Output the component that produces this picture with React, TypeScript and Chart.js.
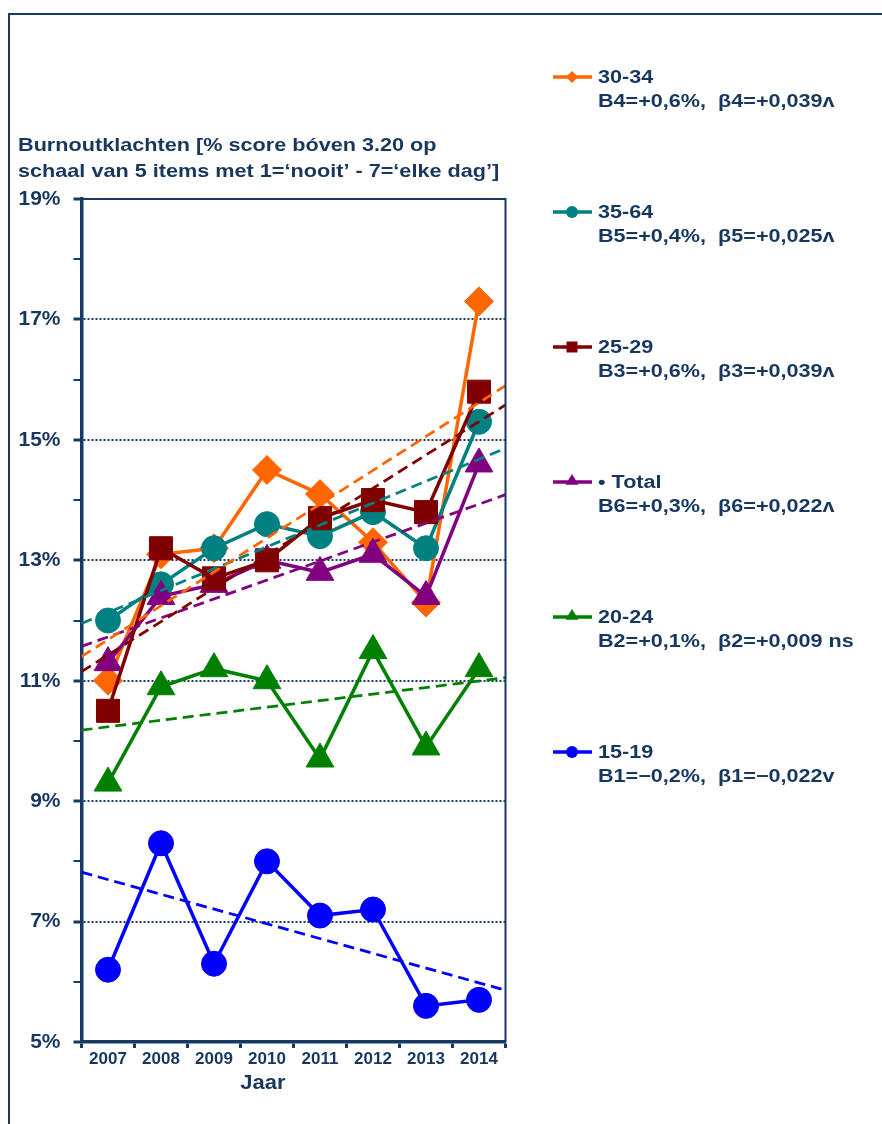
import React, { useEffect, useRef } from 'react';
import { Chart, registerables } from 'chart.js';
Chart.register(...registerables);

const years = ['2007', '2008', '2009', '2010', '2011', '2012', '2013', '2014'];
const s3034 = [11.0, 13.1, 13.2, 14.5, 14.1, 13.3, 12.3, 17.3];
const s3564 = [12.0, 12.6, 13.2, 13.6, 13.4, 13.8, 13.2, 15.3];
const s2529 = [10.5, 13.2, 12.7, 13.0, 13.7, 14.0, 13.8, 15.8];
const sTotal = [11.3, 12.4, 12.6, 13.0, 12.8, 13.1, 12.4, 14.6];
const s2024 = [9.3, 10.9, 11.2, 11.0, 9.7, 11.5, 9.9, 11.2];
const s1519 = [6.2, 8.3, 6.3, 8.0, 7.1, 7.2, 5.6, 5.7];

const trendX = [-0.5, 7.5];
const t3034 = [11.4, 15.9];
const t3564 = [11.95, 14.86];
const t2529 = [11.15, 15.58];
const tTotal = [11.57, 14.09];
const t2024 = [10.18, 11.05];
const t1519 = [7.82, 5.86];

const yMin = 5;
const yMax = 19;

const titleLines = [
  'Burnoutklachten [% score bóven 3.20 op',
  'schaal van 5 items met 1=\u2018nooit\u2019 - 7=\u2018elke dag\u2019]',
];
const xTitle = 'Jaar';

const legendNames = ['30-34', '35-64', '25-29', '\u2022 Total', '20-24', '15-19'];
const legendStats = [
  'B4=+0,6%,  \u03b24=+0,039\u028c',
  'B5=+0,4%,  \u03b25=+0,025\u028c',
  'B3=+0,6%,  \u03b23=+0,039\u028c',
  'B6=+0,3%,  \u03b26=+0,022\u028c',
  'B2=+0,1%,  \u03b22=+0,009 ns',
  'B1=\u22120,2%,  \u03b21=\u22120,022v',
];
const legendColors = ['#FF6600', '#008080', '#800000', '#800080', '#008000', '#0000FF'];
const legendShapes = ['rectRot', 'circle', 'rect', 'triangle', 'triangle', 'circle'];

const NAVY = '#173A64';
const TEXT = '#17375E';
const FONT = '"Liberation Sans", Arial, sans-serif';

function drawMarker(ctx: CanvasRenderingContext2D, shape: string, x: number, y: number, r: number, color: string) {
  ctx.save();
  ctx.fillStyle = color;
  ctx.beginPath();
  if (shape === 'circle') {
    ctx.arc(x, y, r, 0, Math.PI * 2);
  } else if (shape === 'rect') {
    ctx.rect(x - r, y - r, 2 * r, 2 * r);
  } else if (shape === 'rectRot') {
    ctx.moveTo(x - r, y);
    ctx.lineTo(x, y - r);
    ctx.lineTo(x + r, y);
    ctx.lineTo(x, y + r);
    ctx.closePath();
  } else {
    ctx.moveTo(x, y - r);
    ctx.lineTo(x + r * 0.95, y + r * 0.55);
    ctx.lineTo(x - r * 0.95, y + r * 0.55);
    ctx.closePath();
  }
  ctx.fill();
  ctx.restore();
}

function stretchedText(ctx: CanvasRenderingContext2D, text: string, x: number, y: number, sx: number) {
  ctx.save();
  ctx.translate(x, y);
  ctx.scale(sx, 1);
  ctx.fillText(text, 0, 0);
  ctx.restore();
}

const decorPlugin = {
  id: 'decor',
  afterDraw(chart: any) {
    const ctx: CanvasRenderingContext2D = chart.ctx;
    const a = chart.chartArea;
    ctx.save();
    // outer frame
    ctx.strokeStyle = NAVY;
    ctx.lineWidth = 2;
    ctx.beginPath();
    ctx.moveTo(9, 1124);
    ctx.lineTo(9, 14);
    ctx.lineTo(882, 14);
    ctx.stroke();
    // plot top/right border
    ctx.lineWidth = 2;
    ctx.beginPath();
    ctx.moveTo(a.left, a.top);
    ctx.lineTo(a.right, a.top);
    ctx.lineTo(a.right, a.bottom);
    ctx.stroke();
    // title
    ctx.fillStyle = TEXT;
    ctx.font = 'bold 18.5px ' + FONT;
    ctx.textAlign = 'left';
    ctx.textBaseline = 'middle';
    stretchedText(ctx, titleLines[0], 18, 146, 1.17);
    stretchedText(ctx, titleLines[1], 18, 172, 1.17);
    // x title
    ctx.font = 'bold 20px ' + FONT;
    ctx.textAlign = 'center';
    stretchedText(ctx, xTitle, 263, 1083, 1.1);
    // legend
    for (let i = 0; i < legendNames.length; i++) {
      const y = 77 + i * 135;
      ctx.strokeStyle = legendColors[i];
      ctx.lineWidth = 3.5;
      ctx.beginPath();
      ctx.moveTo(553, y);
      ctx.lineTo(592, y);
      ctx.stroke();
      const sh = legendShapes[i];
      const r = sh === 'rect' ? 5.5 : sh === 'triangle' ? 7 : 6;
      drawMarker(ctx, sh, 572, sh === 'triangle' ? y - 1 : y, r, legendColors[i]);
      ctx.fillStyle = TEXT;
      ctx.font = 'bold 18px ' + FONT;
      ctx.textAlign = 'left';
      stretchedText(ctx, legendNames[i], 598, y + 1, 1.2);
      stretchedText(ctx, legendStats[i], 598, y + 25, 1.2);
    }
    ctx.restore();
  },
};

function series(label: string, data: number[], color: string, shape: string, radius: number, order: number) {
  return {
    label,
    data,
    xAxisID: 'x',
    borderColor: color,
    backgroundColor: color,
    borderWidth: 3.5,
    pointStyle: shape,
    pointRadius: radius,
    pointBackgroundColor: color,
    pointBorderColor: color,
    pointBorderWidth: 1,
    tension: 0,
    fill: false,
    order,
  };
}

function trend(label: string, vals: number[], color: string) {
  return {
    label,
    data: trendX.map((x, i) => ({ x, y: vals[i] })),
    xAxisID: 'xt',
    borderColor: color,
    backgroundColor: color,
    borderWidth: 2.75,
    borderDash: [11, 6],
    pointRadius: 0,
    tension: 0,
    fill: false,
    order: 0,
  };
}

export default function App() {
  const ref = useRef<HTMLCanvasElement>(null);
  useEffect(() => {
    if (!ref.current) return;
    const chart = new Chart(ref.current, {
      type: 'line',
      data: {
        labels: years,
        datasets: [
          trend('t30-34', t3034, '#FF6600'),
          trend('t25-29', t2529, '#800000'),
          trend('t35-64', t3564, '#008080'),
          trend('tTotal', tTotal, '#800080'),
          trend('t20-24', t2024, '#008000'),
          trend('t15-19', t1519, '#0000FF'),
          series('25-29', s2529, '#800000', 'rect', 16.3, 1),
          series('Total', sTotal, '#800080', 'triangle', 16, 2),
          series('35-64', s3564, '#008080', 'circle', 12.5, 3),
          series('30-34', s3034, '#FF6600', 'rectRot', 14.5, 4),
          series('20-24', s2024, '#008000', 'triangle', 16, 5),
          series('15-19', s1519, '#0000FF', 'circle', 12.5, 6),
        ] as any,
      },
      options: {
        responsive: false,
        animation: false,
        devicePixelRatio: 1,
        layout: { padding: { left: 0, top: 199, right: 376.5, bottom: 0 } },
        plugins: { legend: { display: false }, tooltip: { enabled: false }, title: { display: false } },
        scales: {
          x: {
            type: 'category',
            offset: true,
            afterFit: (s: any) => { s.height = 82; },
            grid: {
              offset: true,
              drawOnChartArea: false,
              drawTicks: true,
              tickLength: 6,
              tickWidth: 3,
              tickColor: NAVY,
            },
            border: { display: true, color: NAVY, width: 3.5 },
            ticks: {
              color: TEXT,
              font: { family: FONT, size: 17, weight: 'bold' },
              padding: 1,
              maxRotation: 0,
              autoSkip: false,
            },
          },
          xt: {
            type: 'linear',
            display: false,
            min: trendX[0],
            max: trendX[1],
          },
          y: {
            type: 'linear',
            min: yMin,
            max: yMax,
            afterFit: (s: any) => { s.width = 81.5; },
            ticks: {
              stepSize: 1,
              color: TEXT,
              font: { family: FONT, size: 21, weight: 'bold' },
              padding: 13,
              callback: (v: any) => (Number(v) % 2 === 1 ? v + '%' : ''),
            },
            grid: {
              drawOnChartArea: true,
              drawTicks: true,
              tickLength: 8,
              color: (c: any) => {
                const v = c.tick ? c.tick.value : 0;
                return v % 2 === 1 && v !== yMin && v !== yMax ? NAVY : 'rgba(0,0,0,0)';
              },
              lineWidth: 2,
              tickColor: NAVY,
              tickWidth: (c: any) => {
                const v = c.tick ? c.tick.value : 0;
                return v % 2 === 1 ? 3 : 2;
              },
            },
            border: { display: true, color: NAVY, width: 3.5, dash: [2, 2] },
          },
        },
      } as any,
      plugins: [decorPlugin],
    });
    return () => chart.destroy();
  }, []);
  return (
    <div style={{ position: 'fixed', left: 0, top: 0, width: 882, height: 1124, background: '#fff' }}>
      <canvas ref={ref} width={882} height={1124} style={{ display: 'block', width: 882, height: 1124 }} />
    </div>
  );
}
